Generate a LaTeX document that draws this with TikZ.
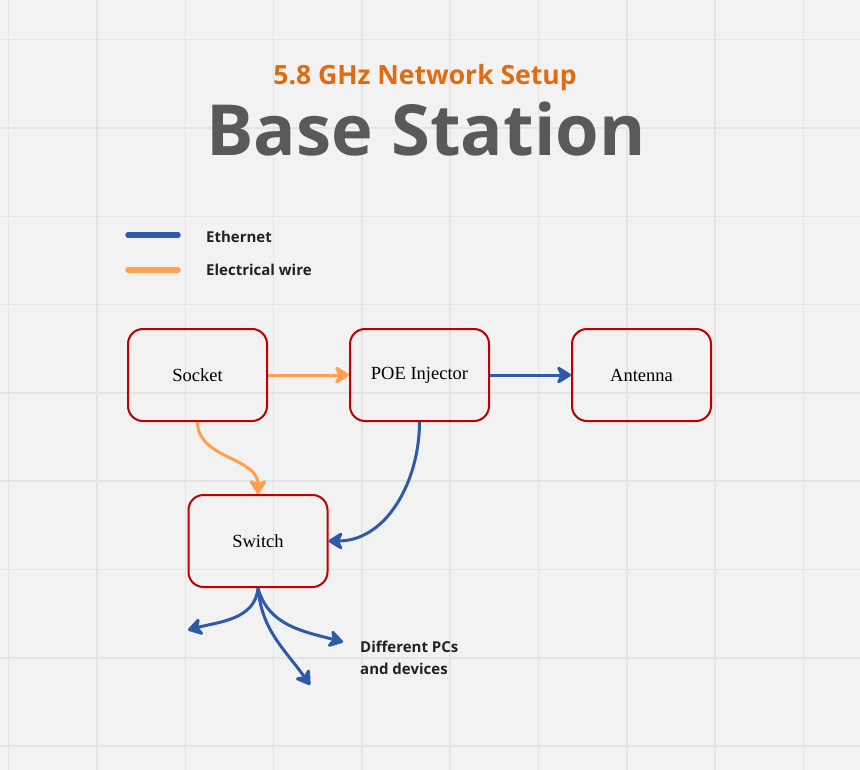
\documentclass[tikz,border=0pt]{standalone}
\usepackage{fontspec}
\usepackage{tikz}
\usetikzlibrary{arrows.meta,positioning,calc}
\newfontfamily\opensans{Open Sans}
\newfontfamily\boxserif{Liberation Serif}
\definecolor{bggray}{RGB}{242,242,242}
\definecolor{gridgray}{RGB}{228,228,228}
\definecolor{boxred}{RGB}{192,0,0}
\definecolor{ethblue}{RGB}{47,90,168}
\definecolor{wireorange}{RGB}{255,160,80}
\definecolor{titlegray}{RGB}{89,89,89}
\definecolor{suborange}{RGB}{224,108,16}
\definecolor{labelblack}{RGB}{34,34,34}
\tikzstyle{device}=[draw=boxred,line width=2pt,rounded corners=15pt,minimum width=139pt,minimum height=92pt,text=black,font=\boxserif\fontsize{18.5}{22}\selectfont]
\tikzstyle{ethernet}=[draw=ethblue,line width=3pt,-{Stealth[length=17pt,width=21pt,inset=5pt,round]}]
\tikzstyle{wire}=[draw=wireorange,line width=3pt,-{Stealth[length=17pt,width=21pt,inset=5pt,round]}]
\tikzstyle{legendline}=[line width=5.5pt,line cap=round]
\tikzstyle{legendtext}=[anchor=base west,inner sep=0pt,text=labelblack,font=\opensans\bfseries\fontsize{15}{22}\selectfont]
\tikzstyle{gridline}=[draw=gridgray,line width=1.5pt]

\begin{document}
\begin{tikzpicture}[x=1pt,y=1pt]
    \useasboundingbox[fill=bggray] (0,0) rectangle (860,-770);
    \foreach \i in {0,...,9}
      \draw[gridline] ({8.7+88.3*\i},0) -- ({8.7+88.3*\i},-770);
    \foreach \i in {0,...,8}
      \draw[gridline] (0,{-39.7-88.3*\i}) -- (860,{-39.7-88.3*\i});

    \node (subtitle) [anchor=base,inner sep=0pt,text=suborange,font=\opensans\bfseries\fontsize{26.5}{30}\selectfont] at (425,-85) {5.8 GHz Network Setup};
    \node (title) [anchor=base,inner sep=0pt,text=titlegray,font=\opensans\bfseries\fontsize{70.5}{80}\selectfont] at (426,-156) {Base Station};

    \coordinate (ethA) at (128,-235);
    \coordinate (ethB) at (178,-235);
    \coordinate (wireA) at (128,-270);
    \coordinate (wireB) at (178,-270);
    \draw[legendline,ethblue] (ethA) -- (ethB);
    \draw[legendline,wireorange] (wireA) -- (wireB);
    \node (ethlabel) [legendtext] at (206,-243) {Ethernet};
    \node (wirelabel) [legendtext] at (206,-276) {Electrical wire};

    \node [device] (socket) at (197.5,-375) {Socket};
    \node [device,right=81pt of socket] (poe) {POE Injector};
    \node [device,right=81pt of poe] (antenna) {Antenna};
    \node [device] (switch) at (258,-541) {Switch};

    \draw[wire] (socket) -- (poe);
    \draw[ethernet] (poe) -- (antenna);
    \draw[wire] (socket.south) to[out=-90,in=90] (switch.north);
    \draw[ethernet] (poe.south) to[out=-90,in=0] (switch.east);

    \coordinate (pcleft) at (188,-630);
    \coordinate (pcdown) at (310,-685);
    \coordinate (pcright) at (343,-642);
    \draw[ethernet] (switch.south) to[out=-95,in=15] (pcleft);
    \draw[ethernet] (switch.south) to[out=-85,in=125] (pcdown);
    \draw[ethernet] (switch.south) to[out=-75,in=165] (pcright);

    \node (pclabel) [anchor=west,inner sep=0pt,align=left,text=labelblack,font=\opensans\bfseries\fontsize{15}{22}\selectfont] at (360,-657.5) {Different PCs\\and devices};
\end{tikzpicture}
\end{document}
